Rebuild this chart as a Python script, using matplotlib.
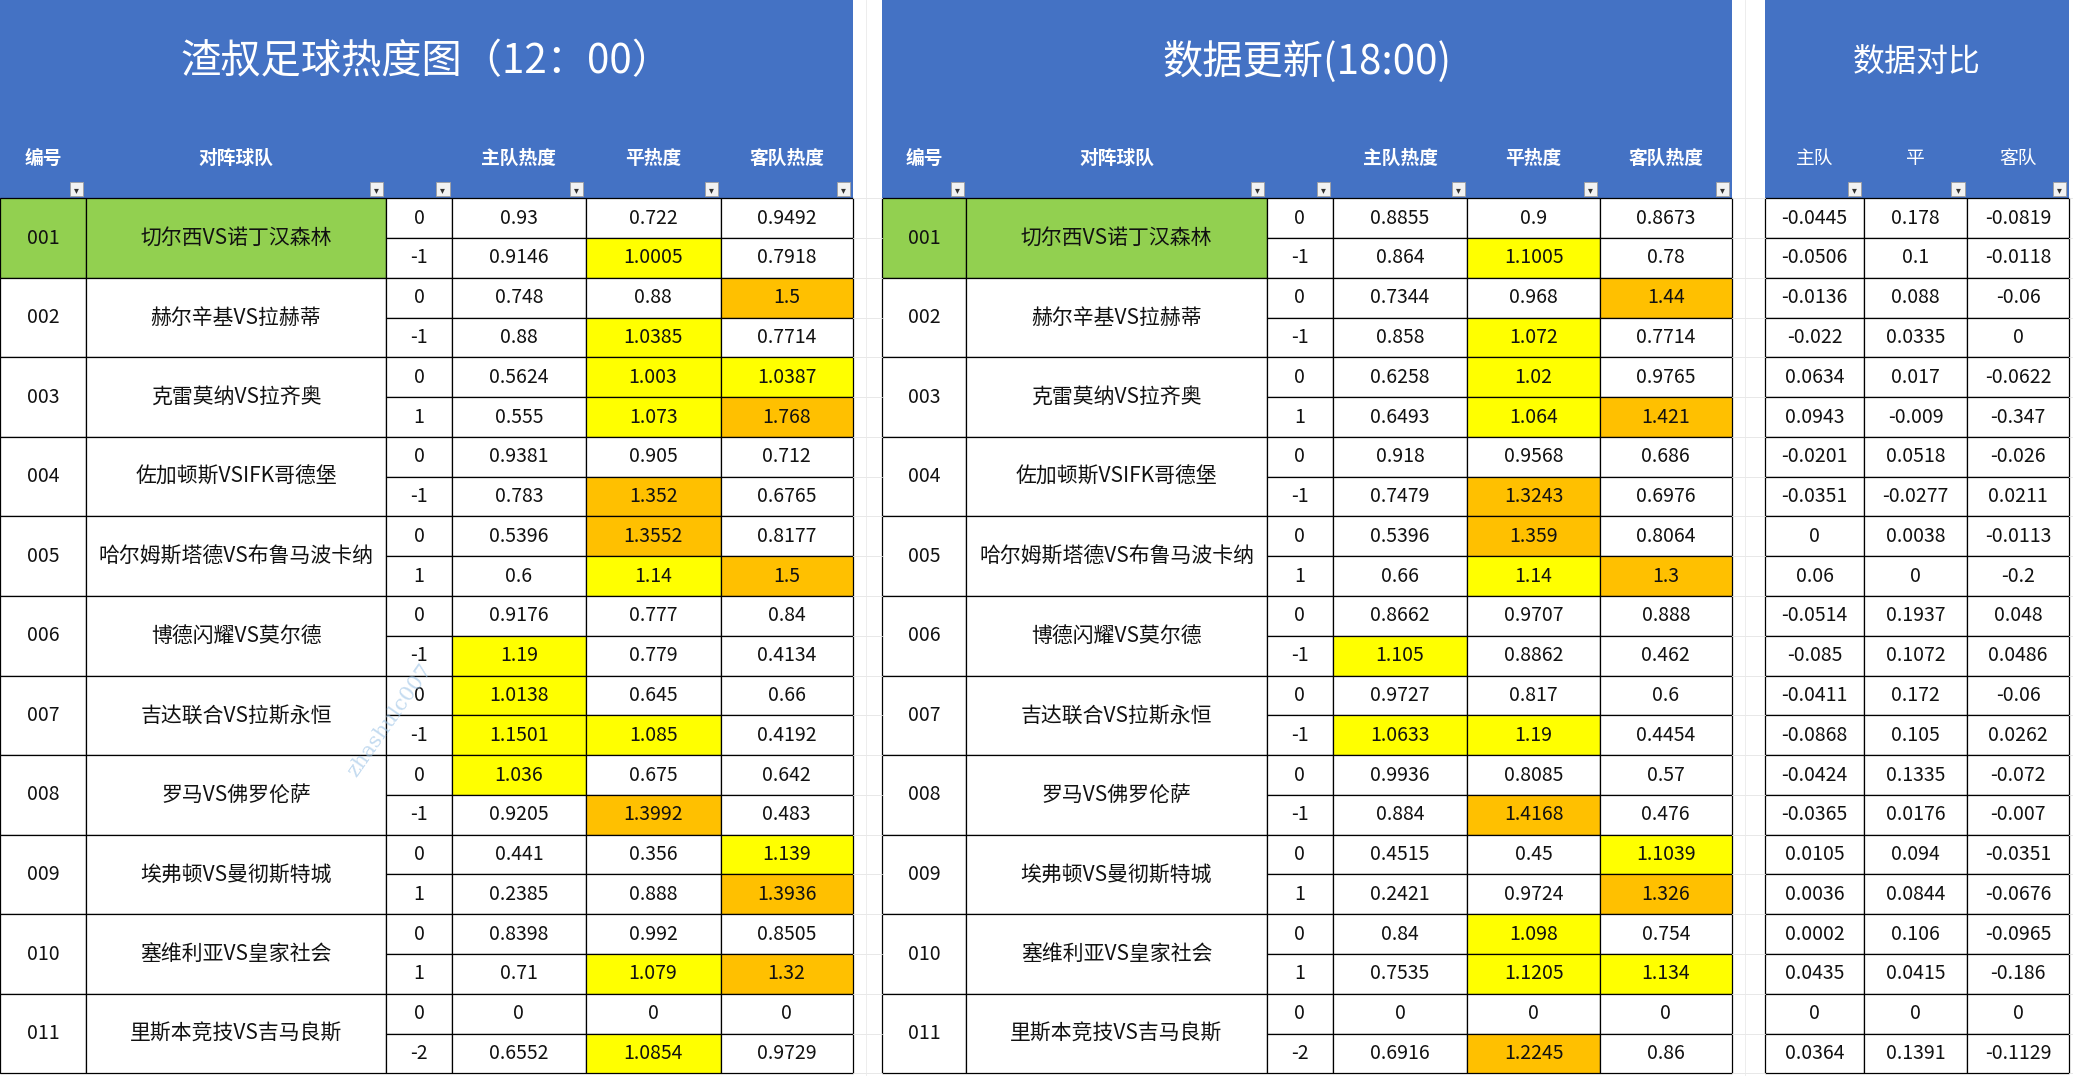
import matplotlib
matplotlib.use("Agg")
import matplotlib.pyplot as plt
from matplotlib.patches import Rectangle

plt.rcParams['font.family'] = ['Noto Sans CJK SC', 'DejaVu Sans']

ids = ["001","002","003","004","005","006","007","008","009","010","011"]
teams = ["切尔西VS诺丁汉森林","赫尔辛基VS拉赫蒂","克雷莫纳VS拉齐奥","佐加顿斯VSIFK哥德堡",
         "哈尔姆斯塔德VS布鲁马波卡纳","博德闪耀VS莫尔德","吉达联合VS拉斯永恒","罗马VS佛罗伦萨",
         "埃弗顿VS曼彻斯特城","塞维利亚VS皇家社会","里斯本竞技VS吉马良斯"]
handicaps = [0,-1, 0,-1, 0,1, 0,-1, 0,1, 0,-1, 0,-1, 0,-1, 0,1, 0,1, 0,-2]
left_home = [0.93,0.9146,0.748,0.88,0.5624,0.555,0.9381,0.783,0.5396,0.6,0.9176,1.19,1.0138,1.1501,1.036,0.9205,0.441,0.2385,0.8398,0.71,0,0.6552]
left_draw = [0.722,1.0005,0.88,1.0385,1.003,1.073,0.905,1.352,1.3552,1.14,0.777,0.779,0.645,1.085,0.675,1.3992,0.356,0.888,0.992,1.079,0,1.0854]
left_away = [0.9492,0.7918,1.5,0.7714,1.0387,1.768,0.712,0.6765,0.8177,1.5,0.84,0.4134,0.66,0.4192,0.642,0.483,1.139,1.3936,0.8505,1.32,0,0.9729]
mid_home = [0.8855,0.864,0.7344,0.858,0.6258,0.6493,0.918,0.7479,0.5396,0.66,0.8662,1.105,0.9727,1.0633,0.9936,0.884,0.4515,0.2421,0.84,0.7535,0,0.6916]
mid_draw = [0.9,1.1005,0.968,1.072,1.02,1.064,0.9568,1.3243,1.359,1.14,0.9707,0.8862,0.817,1.19,0.8085,1.4168,0.45,0.9724,1.098,1.1205,0,1.2245]
mid_away = [0.8673,0.78,1.44,0.7714,0.9765,1.421,0.686,0.6976,0.8064,1.3,0.888,0.462,0.6,0.4454,0.57,0.476,1.1039,1.326,0.754,1.134,0,0.86]
diff_home = [-0.0445,-0.0506,-0.0136,-0.022,0.0634,0.0943,-0.0201,-0.0351,0,0.06,-0.0514,-0.085,-0.0411,-0.0868,-0.0424,-0.0365,0.0105,0.0036,0.0002,0.0435,0,0.0364]
diff_draw = [0.178,0.1,0.088,0.0335,0.017,-0.009,0.0518,-0.0277,0.0038,0,0.1937,0.1072,0.172,0.105,0.1335,0.0176,0.094,0.0844,0.106,0.0415,0,0.1391]
diff_away = [-0.0819,-0.0118,-0.06,0,-0.0622,-0.347,-0.026,0.0211,-0.0113,-0.2,0.048,0.0486,-0.06,0.0262,-0.072,-0.007,-0.0351,-0.0676,-0.0965,-0.186,0,-0.1129]
titles = ["渣叔足球热度图（12：00）", "数据更新(18:00)", "数据对比"]
heads_main = ["编号","对阵球队","","主队热度","平热度","客队热度"]
heads_diff = ["主队","平","客队"]

BLUE = "#4472C4"; GREEN = "#92D050"; YEL = "#FFFF00"; ORA = "#FFC000"
W, H = 1568, 814
fig = plt.figure(figsize=(20.73, 10.76), dpi=100)
ax = fig.add_axes([0, 0, 1, 1])
ax.set_xlim(0, W); ax.set_ylim(H, 0); ax.axis("off")

top = 150
rh = (812 - top) / 22
FS = 14

def fmt(v):
    return f"{v:g}"

def cell(x0, x1, y0, y1, text="", fc="white", fs=FS):
    ax.add_patch(Rectangle((x0, y0), x1 - x0, y1 - y0, fc=fc, ec="black", lw=0.9))
    if text != "":
        ax.text((x0 + x1) / 2, (y0 + y1) / 2, text, ha="center", va="center", fontsize=fs, color="#111")

def hcolor(v):
    if v >= 1.2: return ORA
    if v > 1: return YEL
    return "white"

def filt(xr):
    ax.add_patch(Rectangle((xr - 12, 138), 10, 10, fc="#F2F2F2", ec="#A0A0A0", lw=0.6))
    ax.text(xr - 7, 143.5, "▾", ha="center", va="center", fontsize=7, color="#333", family="DejaVu Sans")

for gx0, gx1 in [(645, 667), (1310, 1335), (1565, 1568)]:
    ax.add_patch(Rectangle((gx0, 0), gx1 - gx0, H, fc="white", ec="none"))
    for i in range(23):
        ax.plot([gx0, gx1], [top + i * rh] * 2, color="#E4E4E4", lw=0.6)
    ax.plot([gx0 + 10] * 2, [0, H], color="#EAEAEA", lw=0.6)

def main_block(x, title, home, draw, away):
    x0 = x[0]; x1 = x[-1]
    ax.add_patch(Rectangle((x0, 0), x1 - x0, top, fc=BLUE, ec="none"))
    ax.text((x0 + x1) / 2, 47, title, ha="center", va="center", fontsize=29, color="white",
            fontweight="medium")
    for i, h in enumerate(heads_main):
        if h:
            ax.text((x[i] + x[i + 1]) / 2, 120, h, ha="center", va="center", fontsize=13.5,
                    color="white", fontweight="bold")
        filt(x[i + 1])
    for k in range(len(ids)):
        y0 = top + 2 * k * rh; y1 = y0 + 2 * rh
        fc = GREEN if k == 0 else "white"
        cell(x[0], x[1], y0, y1, ids[k], fc)
        cell(x[1], x[2], y0, y1, teams[k], fc, fs=15)
    for r in range(22):
        y0 = top + r * rh; y1 = y0 + rh
        cell(x[2], x[3], y0, y1, fmt(handicaps[r]))
        for j, arr in enumerate([home, draw, away]):
            cell(x[3 + j], x[4 + j], y0, y1, fmt(arr[r]), hcolor(arr[r]))

main_block([0, 65, 292, 342, 443, 545, 645], titles[0], left_home, left_draw, left_away)
main_block([667, 731, 958, 1008, 1110, 1210, 1310], titles[1], mid_home, mid_draw, mid_away)

xr = [1335, 1410, 1488, 1565]
ax.add_patch(Rectangle((xr[0], 0), xr[-1] - xr[0], top, fc=BLUE, ec="none"))
ax.text((xr[0] + xr[-1]) / 2, 47, titles[2], ha="center", va="center", fontsize=23, color="white",
        fontweight="medium")
for i, h in enumerate(heads_diff):
    ax.text((xr[i] + xr[i + 1]) / 2, 120, h, ha="center", va="center", fontsize=13.5, color="white")
    filt(xr[i + 1])
for r in range(22):
    y0 = top + r * rh; y1 = y0 + rh
    for j, arr in enumerate([diff_home, diff_draw, diff_away]):
        cell(xr[j], xr[j + 1], y0, y1, fmt(arr[r]))

ax.text(295, 545, "zhashulc007", rotation=55, ha="center", va="center", fontsize=15,
        color="#9CC3E6", alpha=0.6, family="DejaVu Serif")

fig.savefig("out.png", dpi=100)
